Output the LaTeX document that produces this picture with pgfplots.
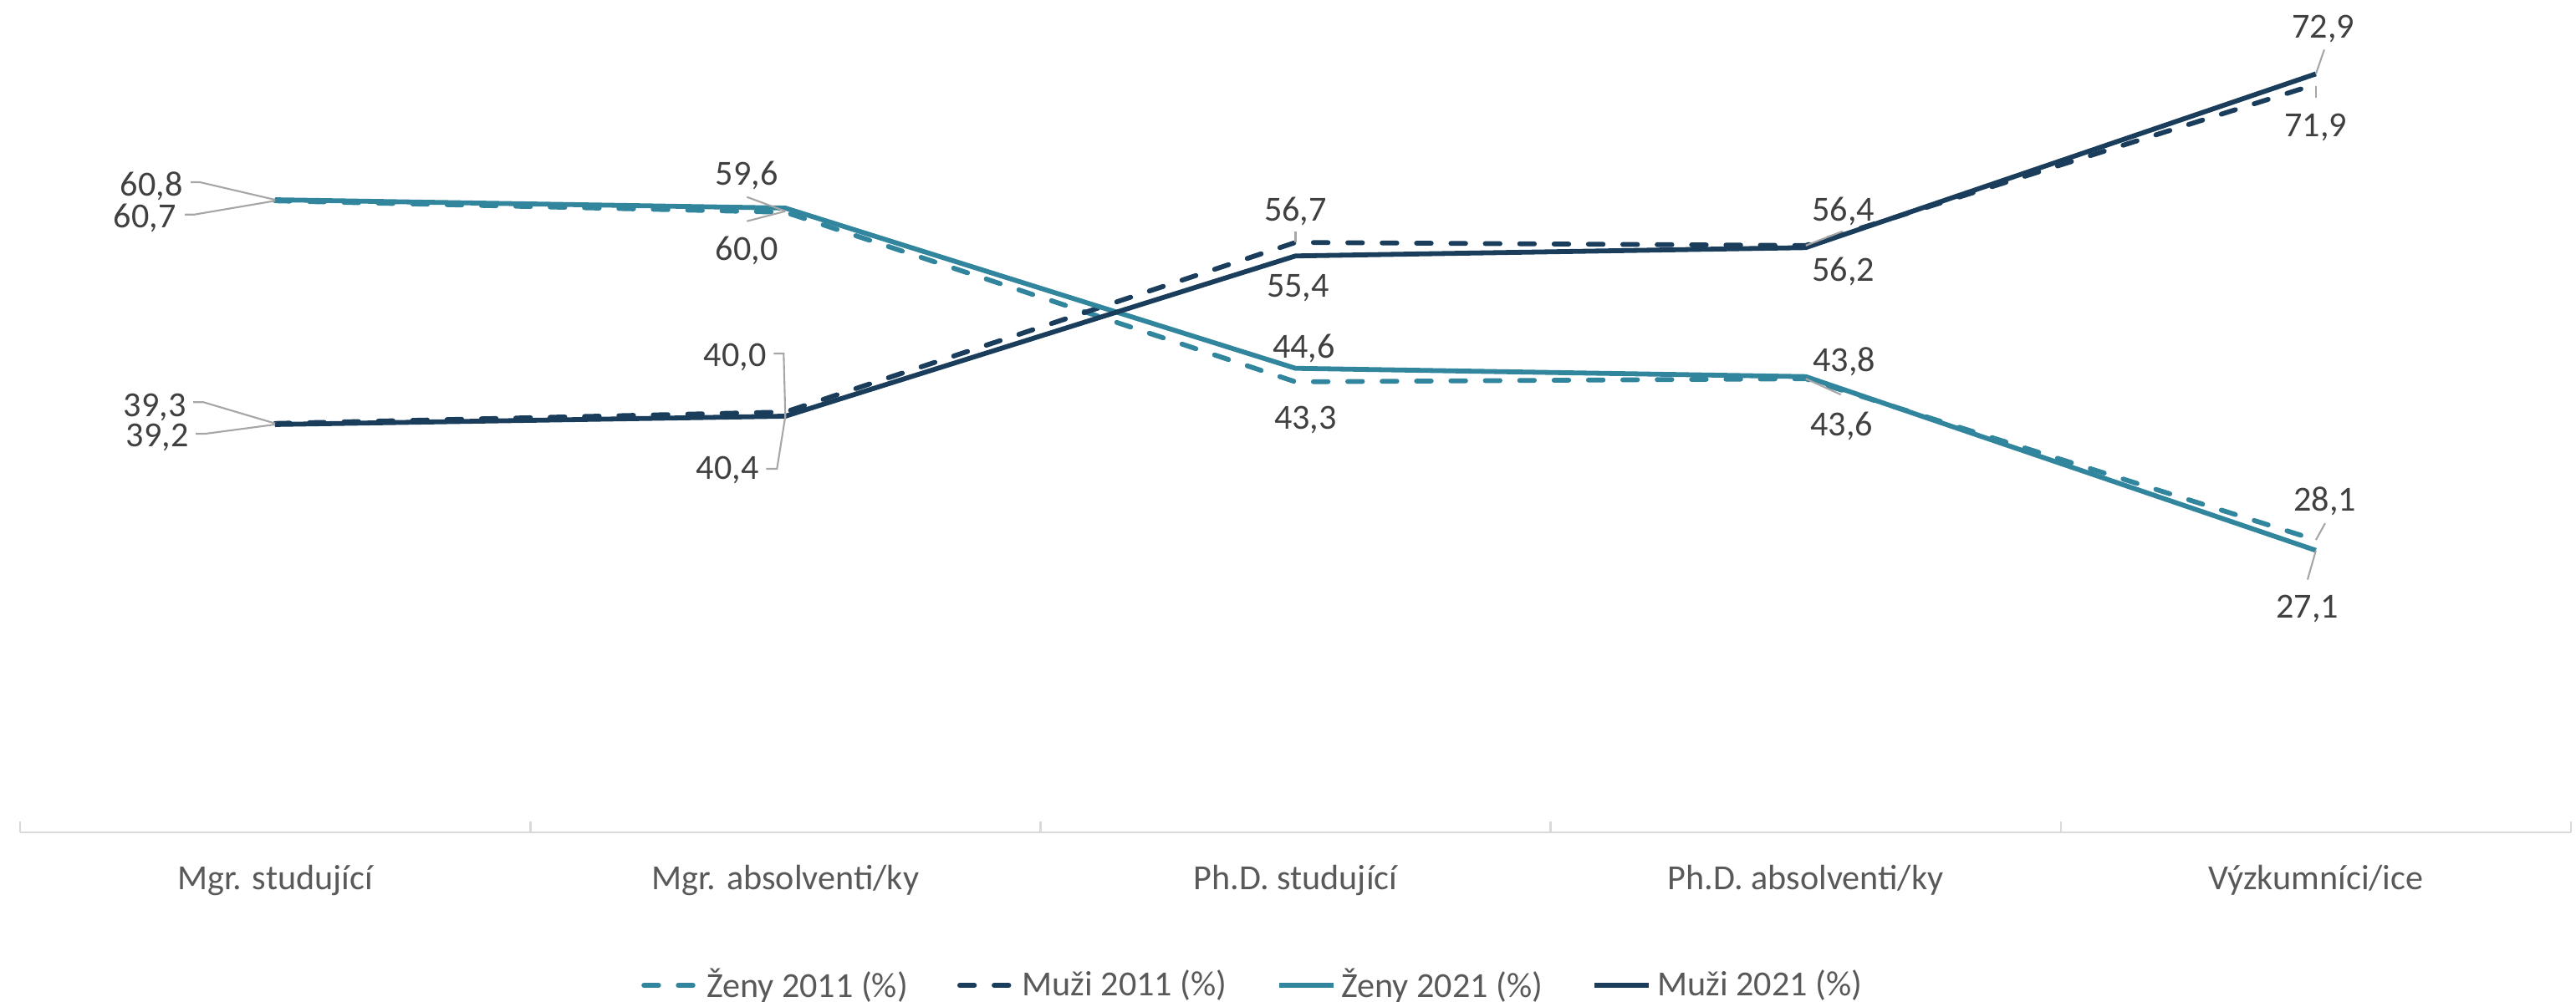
\documentclass[border=0pt]{standalone}
\usepackage{fontspec}
\setmainfont{Carlito}
\usepackage{pgfplots}
\pgfplotsset{compat=1.18}
\definecolor{zcol}{HTML}{31859C}
\definecolor{mcol}{HTML}{1A3D5C}
\definecolor{labc}{HTML}{404040}
\definecolor{axc}{HTML}{595959}
\definecolor{linec}{HTML}{D9D9D9}
\definecolor{leadc}{HTML}{A6A6A6}
\tikzset{
  lab/.style={font=\fontsize{12}{14}\selectfont, text=labc, inner sep=0pt, text depth=0pt, anchor=center},
  leader/.style={draw=leadc, line width=0.6pt},
}
\begin{document}
\begin{tikzpicture}
\useasboundingbox (-0.24cm,-2.03cm) rectangle (30.57cm,9.96cm);
\begin{axis}[
  at={(0,0)}, anchor=south west,
  width=30.51cm, height=9.96cm, scale only axis,
  xmin=-0.5, xmax=4.5, ymin=0, ymax=80,
  hide y axis,
  axis x line=bottom,
  x axis line style={-, draw=linec, line width=0.75pt},
  tick align=inside,
  xtick={0,1,2,3,4},
  xticklabels={Mgr. studující, Mgr. absolventi/ky, Ph.D. studující, Ph.D. absolventi/ky, Výzkumníci/ice},
  major tick length=0pt,
  xticklabel style={anchor=base, yshift=-0.685cm, font=\fontsize{12}{14}\selectfont, text=axc},
  extra x ticks={-0.5,0.5,1.5,2.5,3.5,4.5},
  extra x tick labels={},
  extra x tick style={major tick length=0.13cm, tick style={draw=linec, line width=0.75pt}},
  clip=false,
  legend columns=4,
  legend style={at={(0.484,0)}, anchor=center, yshift=-1.83cm, draw=none, fill=none,
    font=\fontsize{12}{14}\selectfont, text=axc, inner sep=0pt,
    nodes={inner xsep=2pt, inner ysep=0pt},
    /tikz/every even column/.append style={column sep=0.52cm}},
  legend image code/.code={\draw[#1] (0cm,0cm) -- (0.65cm,0cm);},
  every axis plot/.append style={line width=1.65pt, line join=round},
]
\addplot[zcol, dash pattern=on 5.0pt off 6.7pt, line cap=round] coordinates {(0,60.7) (1,59.6) (2,43.3) (3,43.6) (4,28.1)};
\addlegendentry{Ženy 2011 (\%)}
\addplot[mcol, dash pattern=on 5.0pt off 6.7pt, line cap=round] coordinates {(0,39.3) (1,40.4) (2,56.7) (3,56.4) (4,71.9)};
\addlegendentry{Muži 2011 (\%)}
\addplot[zcol] coordinates {(0,60.8) (1,60.0) (2,44.6) (3,43.8) (4,27.1)};
\addlegendentry{Ženy 2021 (\%)}
\addplot[mcol] coordinates {(0,39.2) (1,40.0) (2,55.4) (3,56.2) (4,72.9)};
\addlegendentry{Muži 2021 (\%)}

% Mgr. studujici
\draw[leader] (axis cs:0,60.8) -- ++(-0.90cm,0.21cm) -- ++(-0.11cm,0cm);
\draw[leader] (axis cs:0,60.7) -- ++(-0.97cm,-0.165cm) -- ++(-0.11cm,0cm);
\draw[leader] (axis cs:0,39.3) -- ++(-0.86cm,0.255cm) -- ++(-0.12cm,0cm);
\draw[leader] (axis cs:0,39.2) -- ++(-0.83cm,-0.11cm) -- ++(-0.12cm,0cm);
\node[lab, xshift=-1.48cm, yshift=0.19cm] at (axis cs:0,60.8) {60,8};
\node[lab, xshift=-1.56cm, yshift=-0.18cm] at (axis cs:0,60.7) {60,7};
\node[lab, xshift=-1.44cm, yshift=0.22cm] at (axis cs:0,39.3) {39,3};
\node[lab, xshift=-1.41cm, yshift=-0.13cm] at (axis cs:0,39.2) {39,2};

% Mgr. absolventi
\draw[leader] (axis cs:1,59.7) -- ++(-0.46cm,0.17cm);
\draw[leader] (axis cs:1,59.7) -- ++(-0.46cm,-0.12cm);
\node[lab, xshift=-0.46cm, yshift=0.45cm] at (axis cs:1,59.7) {59,6};
\node[lab, xshift=-0.46cm, yshift=-0.45cm] at (axis cs:1,59.7) {60,0};
\draw[leader] (axis cs:1,40.0) -- ++(-0.02cm,0.75cm) -- ++(-0.12cm,0cm);
\draw[leader] (axis cs:1,40.0) -- ++(-0.10cm,-0.63cm) -- ++(-0.13cm,0cm);
\node[lab, xshift=-0.60cm, yshift=0.73cm] at (axis cs:1,40.0) {40,0};
\node[lab, xshift=-0.69cm, yshift=-0.62cm] at (axis cs:1,40.0) {40,4};

% Ph.D. studujici
\draw[leader] (axis cs:2,56.7) -- ++(0cm,0.13cm);
\node[lab, yshift=0.40cm] at (axis cs:2,56.7) {56,7};
\node[lab, xshift=0.03cm, yshift=-0.36cm] at (axis cs:2,55.4) {55,4};
\node[lab, xshift=0.10cm, yshift=0.26cm] at (axis cs:2,44.6) {44,6};
\node[lab, xshift=0.12cm, yshift=-0.43cm] at (axis cs:2,43.3) {43,3};

% Ph.D. absolventi
\draw[leader] (axis cs:3,56.4) -- ++(0.44cm,0.17cm);
\draw[leader] (axis cs:3,43.6) -- ++(0.42cm,-0.19cm);
\node[lab, xshift=0.45cm, yshift=0.44cm] at (axis cs:3,56.4) {56,4};
\node[lab, xshift=0.45cm, yshift=-0.26cm] at (axis cs:3,56.2) {56,2};
\node[lab, xshift=0.46cm, yshift=0.21cm] at (axis cs:3,43.8) {43,8};
\node[lab, xshift=0.43cm, yshift=-0.54cm] at (axis cs:3,43.6) {43,6};

% Vyzkumnici
\draw[leader] (axis cs:4,72.9) -- ++(0.10cm,0.29cm);
\draw[leader] (axis cs:4,71.9) ++(0cm,-0.02cm) -- ++(0cm,-0.14cm);
\draw[leader] (axis cs:4,28.1) -- ++(0.11cm,0.20cm);
\draw[leader] (axis cs:4,27.1) -- ++(-0.10cm,-0.35cm);
\node[lab, xshift=0.09cm, yshift=0.57cm] at (axis cs:4,72.9) {72,9};
\node[lab, yshift=-0.49cm] at (axis cs:4,71.9) {71,9};
\node[lab, xshift=0.11cm, yshift=0.49cm] at (axis cs:4,28.1) {28,1};
\node[lab, xshift=-0.10cm, yshift=-0.67cm] at (axis cs:4,27.1) {27,1};
\end{axis}
\end{tikzpicture}
\end{document}
